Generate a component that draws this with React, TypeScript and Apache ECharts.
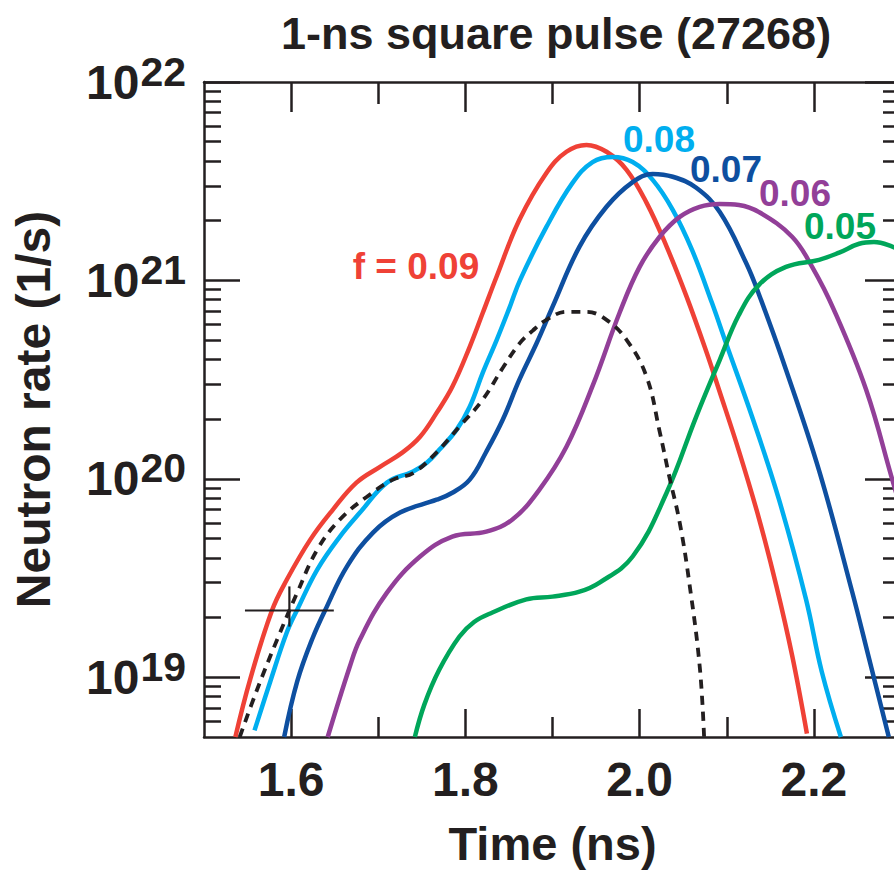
import React, { useEffect, useRef } from 'react';
import * as echarts from 'echarts';

// ---- data (time in ns, neutron rate in 1/s) ----
const timeF09 = [1.536, 1.553, 1.578, 1.595, 1.622, 1.648, 1.675, 1.702, 1.728, 1.748, 1.767, 1.785, 1.805, 1.820, 1.836, 1.862, 1.893, 1.916, 1.939, 1.962, 1.985, 2.008, 2.031, 2.054, 2.077, 2.091, 2.114, 2.137, 2.157, 2.175, 2.192];
const rateF09 = [5.0e18, 9.75e18, 2.17e19, 3.10e19, 4.94e19, 7.0e19, 9.57e19, 1.15e20, 1.36e20, 1.63e20, 2.15e20, 2.91e20, 4.63e20, 6.87e20, 1.05e21, 2.02e21, 3.48e21, 4.45e21, 4.82e21, 4.45e21, 3.61e21, 2.46e21, 1.48e21, 8.26e20, 4.32e20, 2.82e20, 1.38e20, 6.31e19, 2.88e19, 1.29e19, 5.2e18];

const timeF08 = [1.558, 1.576, 1.595, 1.607, 1.630, 1.656, 1.679, 1.710, 1.740, 1.756, 1.770, 1.790, 1.805, 1.820, 1.836, 1.851, 1.863, 1.893, 1.923, 1.946, 1.969, 1.992, 2.015, 2.038, 2.060, 2.083, 2.099, 2.129, 2.160, 2.191, 2.209, 2.231];
const rateF08 = [5.4e18, 9.5e18, 1.68e19, 2.19e19, 3.49e19, 5.12e19, 6.76e19, 9.57e19, 1.09e20, 1.21e20, 1.40e20, 1.77e20, 2.31e20, 3.43e20, 5.02e20, 7.36e20, 1.01e21, 1.86e21, 3.10e21, 3.95e21, 4.19e21, 3.95e21, 3.21e21, 2.27e21, 1.43e21, 7.71e20, 4.85e20, 2.06e20, 7.85e19, 2.47e19, 1.07e19, 5.0e18];

const timeF07 = [1.592, 1.607, 1.624, 1.641, 1.664, 1.694, 1.725, 1.767, 1.785, 1.805, 1.824, 1.843, 1.862, 1.882, 1.900, 1.931, 1.962, 1.992, 2.015, 2.038, 2.065, 2.092, 2.122, 2.137, 2.168, 2.206, 2.244, 2.263, 2.286];
const rateF07 = [5.0e18, 9.53e18, 1.55e19, 2.27e19, 3.61e19, 5.36e19, 6.76e19, 7.85e19, 8.51e19, 9.91e19, 1.37e20, 1.99e20, 3.16e20, 4.85e20, 7.36e20, 1.48e21, 2.35e21, 3.13e21, 3.44e21, 3.33e21, 2.93e21, 2.21e21, 1.23e21, 8.5e20, 3.55e20, 1.10e20, 2.69e19, 1.26e19, 5.0e18];

const timeF06 = [1.642, 1.667, 1.679, 1.710, 1.748, 1.785, 1.824, 1.854, 1.885, 1.916, 1.946, 1.977, 2.000, 2.023, 2.046, 2.069, 2.092, 2.114, 2.137, 2.175, 2.198, 2.223, 2.260, 2.290, 2.300];
const rateF06 = [5.0e18, 1.12e19, 1.55e19, 2.67e19, 4.06e19, 5.12e19, 5.42e19, 6.24e19, 8.83e19, 1.45e20, 2.94e20, 6.87e20, 1.17e21, 1.66e21, 2.09e21, 2.35e21, 2.43e21, 2.40e21, 2.21e21, 1.66e21, 1.17e21, 7.11e20, 2.81e20, 9.91e19, 7.0e19];

const timeF05 = [1.742, 1.753, 1.770, 1.793, 1.810, 1.831, 1.870, 1.900, 1.931, 1.954, 1.992, 2.031, 2.065, 2.092, 2.114, 2.137, 2.168, 2.206, 2.229, 2.252, 2.269, 2.290, 2.300];
const rateF05 = [5.0e18, 7.30e18, 1.09e19, 1.60e19, 1.90e19, 2.12e19, 2.47e19, 2.55e19, 2.70e19, 3.0e19, 4.06e19, 8.51e19, 2.06e20, 3.98e20, 6.71e20, 9.5e20, 1.17e21, 1.27e21, 1.38e21, 1.53e21, 1.56e21, 1.48e21, 1.40e21];

const timeDashed = [1.541, 1.561, 1.584, 1.607, 1.630, 1.656, 1.687, 1.717, 1.740, 1.767, 1.793, 1.820, 1.843, 1.862, 1.877, 1.893, 1.916, 1.939, 1.962, 1.985, 2.008, 2.023, 2.034, 2.046, 2.057, 2.069, 2.074];
const rateDashed = [5.0e18, 8.68e18, 1.55e19, 2.67e19, 4.40e19, 6.24e19, 8.13e19, 9.91e19, 1.07e20, 1.36e20, 1.83e20, 2.51e20, 3.63e20, 4.80e20, 5.57e20, 6.33e20, 6.95e20, 6.95e20, 6.33e20, 5.02e20, 3.27e20, 1.73e20, 1.03e20, 6.02e19, 3.0e19, 1.13e19, 5.0e18];

// measured point with error bar: [time, rate, timeLow, timeHigh, rateLow, rateHigh]
const measurement = [1.598, 2.17e19, 1.547, 1.649, 1.80e19, 2.87e19];

const xMajorTicks = [1.6, 1.8, 2.0, 2.2];
const xMinorTicks = [1.7, 1.9, 2.1];
const yMajorTicks = [1e19, 1e20, 1e21, 1e22];
const yMinorTicks = [
  6e18, 7e18, 8e18, 9e18,
  2e19, 3e19, 4e19, 5e19, 6e19, 7e19, 8e19, 9e19,
  2e20, 3e20, 4e20, 5e20, 6e20, 7e20, 8e20, 9e20,
  2e21, 3e21, 4e21, 5e21, 6e21, 7e21, 8e21, 9e21,
];

const TITLE = '1-ns square pulse (27268)';
const X_NAME = 'Time (ns)';
const Y_NAME = 'Neutron rate (1/s)';

const FONT = '"Liberation Sans", Arial, Helvetica, sans-serif';
const INK = '#231F20';
const C09 = '#EF4136';
const C08 = '#00AEEF';
const C07 = '#0E4FA0';
const C06 = '#923F98';
const C05 = '#00A65A';

const pairs = (t: number[], v: number[]) => t.map((x, i) => [x, v[i]]);

export default function App() {
  const ref = useRef<HTMLDivElement>(null);

  useEffect(() => {
    if (!ref.current) return;
    const chart = echarts.init(ref.current, null, { renderer: 'svg' });

    const tickStyle = { color: INK, width: 2.5 };
    const xBase = { type: 'value', min: 1.5, max: 2.3, gridIndex: 0, splitLine: { show: false } };
    const yBase = { type: 'log', logBase: 10, min: 5e18, max: 1e22, gridIndex: 0, splitLine: { show: false } };

    const line = (name: string, t: number[], v: number[], color: string, dashed = false) => ({
      name,
      type: 'line',
      xAxisIndex: 0,
      yAxisIndex: 0,
      data: pairs(t, v),
      showSymbol: false,
      symbol: 'none',
      smooth: 0.4,
      clip: true,
      lineStyle: dashed
        ? { color: INK, width: 3.8, type: [9, 7] }
        : { color, width: 4.5 },
      emphasis: { disabled: true },
      z: dashed ? 5 : 3,
    });

    const annot = (text: string, x: number, y: number, color: string) => ({
      type: 'text',
      x,
      y,
      z: 10,
      style: {
        text,
        fill: color,
        font: `bold 37px ${FONT}`,
        align: 'center',
        verticalAlign: 'middle',
      },
    });

    const option: any = {
      animation: false,
      backgroundColor: '#ffffff',
      grid: { left: 204, top: 82, width: 697, height: 655, containLabel: false, outerBoundsMode: 'none' },
      xAxis: [
        {
          ...xBase,
          position: 'bottom',
          axisLine: { show: true, onZero: false, lineStyle: tickStyle },
          axisTick: { show: true, inside: true, length: 28, lineStyle: tickStyle, customValues: xMajorTicks },
          axisLabel: {
            show: true,
            customValues: xMajorTicks,
            formatter: (v: number) => v.toFixed(1),
            fontSize: 48,
            fontWeight: 'bold',
            fontFamily: FONT,
            color: INK,
            margin: 18,
          },
          name: X_NAME,
          nameLocation: 'middle',
          nameGap: 83,
          nameTextStyle: { fontSize: 47, fontWeight: 'bold', fontFamily: FONT, color: INK },
        },
        {
          ...xBase,
          position: 'bottom',
          axisLine: { show: false },
          axisTick: { show: true, inside: true, length: 20, lineStyle: tickStyle, customValues: xMinorTicks },
          axisLabel: { show: false },
        },
        {
          ...xBase,
          position: 'top',
          axisLine: { show: true, onZero: false, lineStyle: tickStyle },
          axisTick: { show: true, inside: true, length: 30, lineStyle: tickStyle, customValues: xMajorTicks },
          axisLabel: { show: false },
        },
        {
          ...xBase,
          position: 'top',
          axisLine: { show: false },
          axisTick: { show: true, inside: true, length: 22, lineStyle: tickStyle, customValues: xMinorTicks },
          axisLabel: { show: false },
        },
      ],
      yAxis: [
        {
          ...yBase,
          position: 'left',
          axisLine: { show: true, onZero: false, lineStyle: tickStyle },
          axisTick: { show: true, inside: true, length: 36, lineStyle: tickStyle, customValues: yMajorTicks },
          axisLabel: {
            show: true,
            customValues: yMajorTicks,
            margin: 18,
            formatter: (v: number) => `{b|10}{s|${Math.round(Math.log10(v))}}`,
            rich: {
              b: { fontSize: 48, lineHeight: 48, fontWeight: 'bold', fontFamily: FONT, color: INK, verticalAlign: 'bottom' },
              s: { fontSize: 41, lineHeight: 41, fontWeight: 'bold', fontFamily: FONT, color: INK, verticalAlign: 'bottom', padding: [0, 0, 14, 1] },
            },
          },
          name: Y_NAME,
          nameLocation: 'middle',
          nameGap: 147,
          nameRotate: 90,
          nameTextStyle: { fontSize: 48, fontWeight: 'bold', fontFamily: FONT, color: INK },
        },
        {
          ...yBase,
          position: 'left',
          axisLine: { show: false },
          axisTick: { show: true, inside: true, length: 17, lineStyle: tickStyle, customValues: yMinorTicks },
          axisLabel: { show: false },
        },
        {
          ...yBase,
          position: 'right',
          axisLine: { show: true, onZero: false, lineStyle: tickStyle },
          axisTick: { show: true, inside: true, length: 36, lineStyle: tickStyle, customValues: yMajorTicks },
          axisLabel: { show: false },
        },
        {
          ...yBase,
          position: 'right',
          axisLine: { show: false },
          axisTick: { show: true, inside: true, length: 18, lineStyle: tickStyle, customValues: yMinorTicks },
          axisLabel: { show: false },
        },
      ],
      series: [
        line('f = 0.09', timeF09, rateF09, C09),
        line('0.08', timeF08, rateF08, C08),
        line('0.07', timeF07, rateF07, C07),
        line('0.06', timeF06, rateF06, C06),
        line('0.05', timeF05, rateF05, C05),
        line('reference', timeDashed, rateDashed, INK, true),
        {
          name: 'measurement',
          type: 'custom',
          xAxisIndex: 0,
          yAxisIndex: 0,
          z: 6,
          dimensions: ['t', 'r', 'tLo', 'tHi', 'rLo', 'rHi'],
          encode: { x: [0, 2, 3], y: [1, 4, 5] },
          data: [measurement],
          renderItem: (_params: any, api: any) => {
            const left = api.coord([api.value(2), api.value(1)]);
            const right = api.coord([api.value(3), api.value(1)]);
            const low = api.coord([api.value(0), api.value(4)]);
            const high = api.coord([api.value(0), api.value(5)]);
            return {
              type: 'group',
              children: [
                { type: 'line', shape: { x1: left[0], y1: left[1], x2: right[0], y2: right[1] }, style: { stroke: INK, lineWidth: 2.2 } },
                { type: 'line', shape: { x1: low[0], y1: low[1], x2: high[0], y2: high[1] }, style: { stroke: INK, lineWidth: 2.2 } },
              ],
            };
          },
        },
      ],
      graphic: [
        {
          type: 'text',
          x: 556,
          y: 33,
          style: { text: TITLE, fill: INK, font: `bold 45px ${FONT}`, align: 'center', verticalAlign: 'middle' },
        },
        annot('f = 0.09', 416, 266, C09),
        annot('0.08', 659, 139, C08),
        annot('0.07', 726, 169, C07),
        annot('0.06', 795, 193, C06),
        annot('0.05', 840, 226, C05),
      ],
    };

    chart.setOption(option);
    return () => chart.dispose();
  }, []);

  return (
    <div style={{ position: 'absolute', left: 0, top: 0, width: 894, height: 873, overflow: 'hidden', background: '#fff' }}>
      <div ref={ref} style={{ width: 920, height: 873 }} />
    </div>
  );
}
